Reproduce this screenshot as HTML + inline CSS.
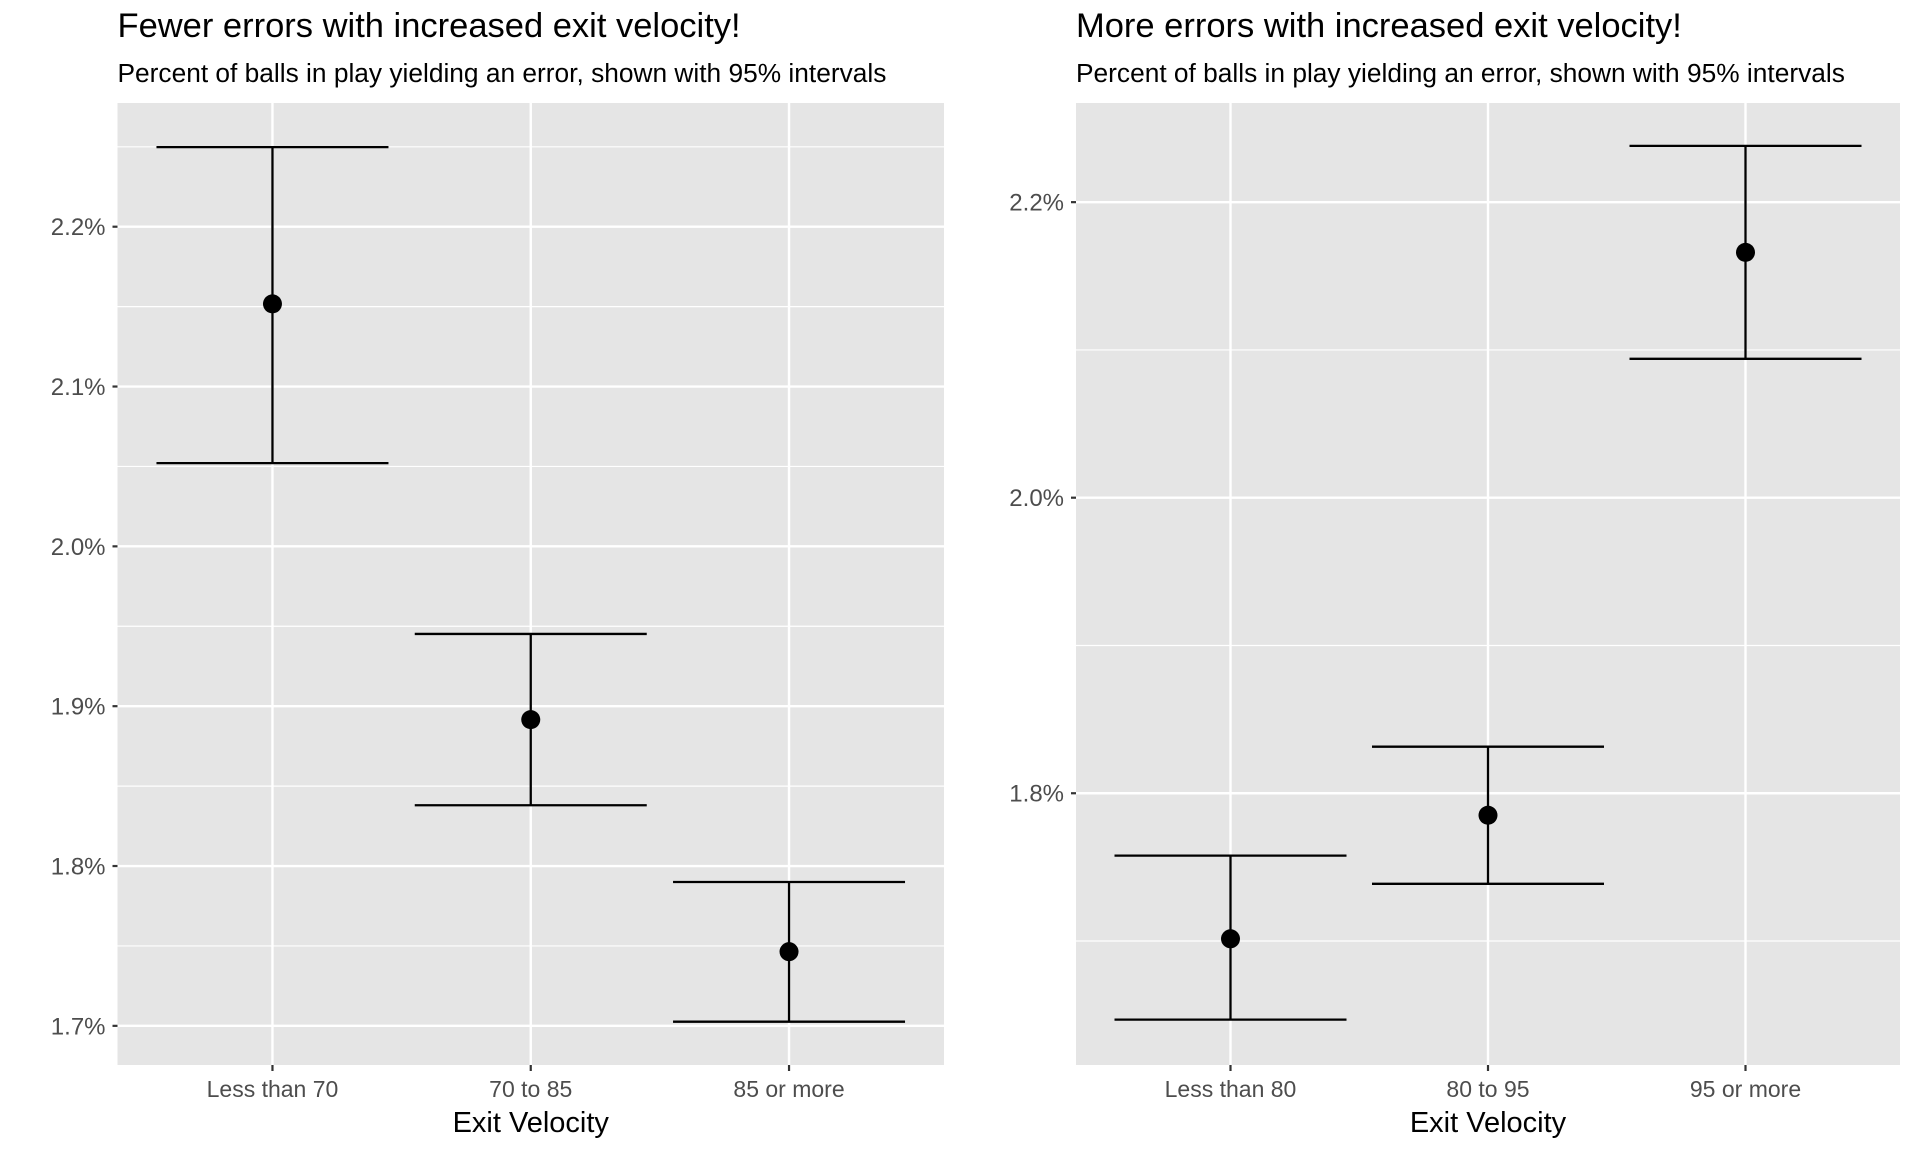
<!DOCTYPE html>
<html><head><meta charset="utf-8"><style>
body{margin:0;background:#fff}
svg{display:block;font-family:"Liberation Sans",Arial,sans-serif}
</style></head><body>
<svg id="c" width="1920" height="1152" xmlns="http://www.w3.org/2000/svg"></svg>
<script>
const leftCats = ["Less than 70","70 to 85","85 or more"];
const leftEst = [2.1517,1.8916,1.7464];
const leftLo = [2.0521,1.8380,1.7026];
const leftHi = [2.2498,1.9452,1.7900];
const leftTicks = [1.7,1.8,1.9,2.0,2.1,2.2];
const rightCats = ["Less than 80","80 to 95","95 or more"];
const rightEst = [1.7015,1.7851,2.1660];
const rightLo = [1.6468,1.7387,2.0940];
const rightHi = [1.7578,1.8315,2.2381];
const rightTicks = [1.8,2.0,2.2];

const NS="http://www.w3.org/2000/svg";
const svg=document.getElementById('c');
function mk(tag,attrs,parent){const e=document.createElementNS(NS,tag);for(const k in attrs)e.setAttribute(k,attrs[k]);(parent||svg).appendChild(e);return e;}

function panel(o){
  const g=mk('g',{});
  
  
  const {x0,x1,y0,y1,ymin,ymax,cats,est,lo,hi,ticks,step}=o;
  const ys=v=>y1-(v-ymin)/(ymax-ymin)*(y1-y0);
  const xs=i=>x0+(i+0.6)/(cats.length+0.2)*(x1-x0);
  const bg=mk('rect',{x:x0,y:y0,width:x1-x0,height:y1-y0,fill:'#e5e5e5'},g);
  
  
  for(let i=0;i<ticks.length+1;i++){
    const v=ticks[0]+(i-0.5)*step;
    const y=ys(v);
    if(y>y0&&y<y1){const l=mk('line',{x1:x0,x2:x1,y1:y,y2:y,stroke:'#fff','stroke-width':1.2},g);
      }
  }
  ticks.forEach(v=>{
    const y=ys(v);
    const l=mk('line',{x1:x0,x2:x1,y1:y,y2:y,stroke:'#fff','stroke-width':2.4},g);
    
    mk('line',{x1:x0-5,x2:x0,y1:y,y2:y,stroke:'#333','stroke-width':2.2},g);
    const t=mk('text',{x:x0-12,y:y+8.5,'text-anchor':'end','font-size':24,fill:'#4d4d4d'},g);
    t.textContent=v.toFixed(1)+'%';
    
  });
  cats.forEach((c,i)=>{
    const x=xs(i);
    const l=mk('line',{x1:x,x2:x,y1:y0,y2:y1,stroke:'#fff','stroke-width':2.4},g);
    
    mk('line',{x1:x,x2:x,y1:y1,y2:y1+6,stroke:'#333','stroke-width':2.2},g);
    const t=mk('text',{x:x,y:y1+32,'text-anchor':'middle','font-size':23,fill:'#4d4d4d'},g);
    t.textContent=c;
    
  });
  cats.forEach((c,i)=>{
    const x=xs(i),hw=116;
    const eg=mk('g',{stroke:'#000','stroke-width':2.3,fill:'none'},g);
    
    mk('line',{x1:x,x2:x,y1:ys(lo[i]),y2:ys(hi[i])},eg);
    mk('line',{x1:x-hw,x2:x+hw,y1:ys(lo[i]),y2:ys(lo[i])},eg);
    mk('line',{x1:x-hw,x2:x+hw,y1:ys(hi[i]),y2:ys(hi[i])},eg);
    const p=mk('circle',{cx:x,cy:ys(est[i]),r:9.5,fill:'#000'},g);
    
  });
  const tt=mk('text',{x:x0,y:37,'font-size':34.5,fill:'#000'},g);tt.textContent=o.title;
  
  const st=mk('text',{x:x0,y:82,'font-size':26.3,fill:'#000'},g);st.textContent='Percent of balls in play yielding an error, shown with 95% intervals';
  
  const xt=mk('text',{x:(x0+x1)/2,y:1132,'text-anchor':'middle','font-size':29,fill:'#000'},g);xt.textContent='Exit Velocity';
  
}
panel({name:'left-panel',x0:117.5,x1:944,y0:103,y1:1065,ymin:1.6755,ymax:2.2774,cats:leftCats,est:leftEst,lo:leftLo,hi:leftHi,ticks:leftTicks,step:0.1,title:'Fewer errors with increased exit velocity!'});
panel({name:'right-panel',x0:1076,x1:1900,y0:103,y1:1065,ymin:1.6161,ymax:2.2671,cats:rightCats,est:rightEst,lo:rightLo,hi:rightHi,ticks:rightTicks,step:0.2,title:'More errors with increased exit velocity!'});
</script>
</body></html>
